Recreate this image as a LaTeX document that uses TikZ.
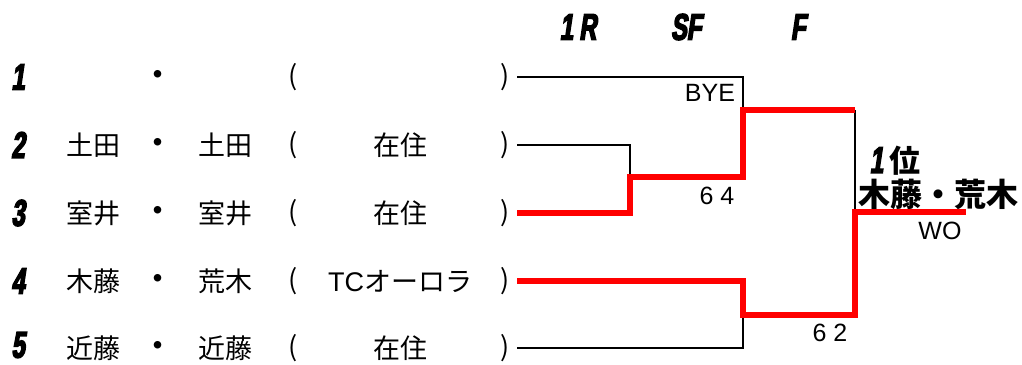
\documentclass[tikz,border=0pt]{standalone}
\usepackage{fontspec}
\setmainfont{Liberation Sans}
\newfontfamily\jp{Noto Sans CJK JP}
\newfontfamily\hdr{Liberation Sans}[UprightFont={Liberation Sans Bold},FakeStretch=0.64,FakeSlant=0.15,FakeBold=4]
\usetikzlibrary{positioning}
\tikzset{seed/.style={inner sep=0pt,font=\hdr\fontsize{37}{37}\selectfont},
  player/.style={inner sep=0pt,font=\jp\fontsize{27}{27}\selectfont},
  score/.style={inner sep=0pt,font=\fontsize{25}{25}\selectfont},
  lose/.style={draw=black,line width=2pt},
  win/.style={draw=red,line width=6pt}}

\begin{document}
\begin{tikzpicture}[x=1pt,y=-1pt]
\useasboundingbox[fill=white] (0,0) rectangle (1022,364);
% round headers
\node[seed] (r1) at (578,27) {1\,R};
\node[seed] (sf) at (686,27) {SF};
\node[seed] (fin) at (798,27) {F};
% entries
\node[seed] (n1) at (18,77) {1};
\node[player] at (158,77) {\bfseries ・};
\node[player] at (293,77) {(};
\node[player] (p1) at (505,77) {)};
\node[seed] (n2) at (18,145) {2};
\node[player] at (93,145) {土田};
\node[player] at (158,145) {\bfseries ・};
\node[player] at (225,145) {土田};
\node[player] at (293,145) {(};
\node[player] at (400,145) {在住};
\node[player] (p2) at (505,145) {)};
\node[seed] (n3) at (18,213) {3};
\node[player] at (93,213) {室井};
\node[player] at (158,213) {\bfseries ・};
\node[player] at (225,213) {室井};
\node[player] at (293,213) {(};
\node[player] at (400,213) {在住};
\node[player] (p3) at (505,213) {)};
\node[seed] (n4) at (18,281) {4};
\node[player] at (93,281) {木藤};
\node[player] at (158,281) {\bfseries ・};
\node[player] at (225,281) {荒木};
\node[player] at (293,281) {(};
\node[player] at (400,281) {\fontspec{Liberation Sans}TC\jp オーロラ};
\node[player] (p4) at (505,281) {)};
\node[seed] (n5) at (18,345) {5};
\node[player] at (93,348) {近藤};
\node[player] at (158,348) {\bfseries ・};
\node[player] at (225,348) {近藤};
\node[player] at (293,348) {(};
\node[player] at (400,348) {在住};
\node[player] (p5) at (505,348) {)};
% scores
\node[score] (bye) at (710,93) {BYE};
\node[score] (s64) at (717,196) {6 4};
\node[score] (s62) at (830,333) {6 2};
\node[score] (wo) at (940,231) {WO};
% champion
\node[seed] (rank) at (895,161) {1\,{\jp\bfseries\fontsize{31}{31}\selectfont 位}};
\node[player,font=\jp\bfseries\fontsize{32}{32}\selectfont] (champ) at (938,194) {木藤・荒木};
% bracket points
\coordinate (e1) at (517,77);
\coordinate (e2) at (517,145);
\coordinate (e3) at (517,213);
\coordinate (e4) at (517,281);
\coordinate (e5) at (517,348);
\coordinate (m23) at (630,177);
\coordinate (m1) at (743,110);
\coordinate (m45) at (743,315);
\coordinate (top) at (855,110);
\coordinate (bot) at (855,212);
\coordinate (end) at (966,212);
% losers
\draw[lose] (e1) -| (m1);
\draw[lose] (e2) -| (m23);
\draw[lose] (e5) -| (m45);
\draw[lose] (top) -- (bot);
% winners
\draw[win] (e3) -| (m23) -| (m1) -- (top);
\draw[win] (e4) -| (m45) -| (bot) -- (end);
\end{tikzpicture}
\end{document}
